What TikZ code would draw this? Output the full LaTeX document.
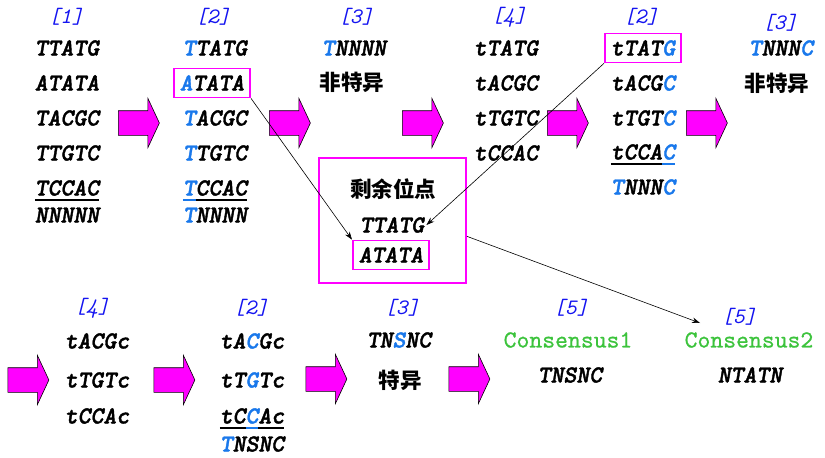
\documentclass[tikz,border=0pt]{standalone}
\usepackage{fontspec}
\usepackage{tikz}
\usetikzlibrary{arrows, arrows.meta, shapes, positioning}
\newfontfamily\cjk{Noto Sans CJK SC}
\newfontfamily\seqfont[FakeBold=1.6]{lmmonolt10-boldoblique.otf}
\newfontfamily\consfont[FakeBold=0.8]{lmmono10-regular.otf}
\definecolor{mymagenta}{RGB}{255,0,255}
\definecolor{seqblue}{RGB}{25,120,235}
\definecolor{lblblue}{RGB}{20,20,240}
\definecolor{consgreen}{RGB}{60,195,60}
\newcommand\bseq[1]{\textcolor{seqblue}{#1}}
\newcommand\useq[1]{\setbox0\hbox{#1}\rlap{\rule[-5.1pt]{\wd0}{1.2pt}}\box0}
\tikzset{
   myseq/.style={font=\fontsize{24.5}{26}\seqfont\selectfont, text height=15pt, text depth=0pt, inner sep=2pt},
   mylbl/.style={font=\fontsize{22}{24}\ttfamily\itshape\selectfont, text=lblblue, inner sep=1pt},
   mycons/.style={font=\fontsize{24.5}{26}\consfont\selectfont, text=consgreen, inner sep=1pt},
   mycjk/.style={font=\fontsize{21.5}{23}\cjk\bfseries\selectfont, inner sep=1pt},
   mybox/.style={draw=mymagenta, line width=1.7pt, inner xsep=6pt, inner ysep=7pt},
   fatarr/.style={single arrow, draw=black, fill=mymagenta, line width=0.6pt,
      text height=0pt, text depth=0pt, inner xsep=0pt, inner ysep=12pt,
      minimum height=41pt, single arrow head extend=12.5pt,
      single arrow tip angle=130, single arrow head indent=0pt}
}
\begin{document}
\begin{tikzpicture}[x=1pt, y=-1pt, >={Stealth[length=8pt,width=5.5pt]}, line width=0.6pt]
\useasboundingbox (0,0) rectangle (825,458);

% top row
\node[mylbl] (l1) at (66,17) {[1]};
\foreach \s [count=\i] in {TTATG, ATATA, TACGC, TTGTC, \useq{TCCAC}}
   \node[myseq] (s1-\i) at (67,13+35*\i) {\s};
\node[myseq] (r1) at (67,215) {NNNNN};
\node[fatarr] (a1) at (136,123) {};

\node[mylbl] (l2) at (213,17) {[2]};
\node[myseq] (s2-1) at (215,48) {\bseq{T}TATG};
\node[myseq, mybox] (s2-2) at (212,83) {\bseq{A}TATA};
\node[myseq] (s2-3) at (215,118) {\bseq{T}ACGC};
\node[myseq] (s2-4) at (215,153) {\bseq{T}TGTC};
\node[myseq] (s2-5) at (215,188) {\bseq{\useq{T}}\useq{CCAC}};
\node[myseq] (r2) at (215,215) {\bseq{T}NNNN};
\node[fatarr] (a2) at (287,123) {};

\node[mylbl] (l3) at (356,17) {[3]};
\node[myseq] (s3) at (354,48) {\bseq{T}NNNN};
\node[mycjk] (n3) at (352,82) {非特异};
\node[fatarr] (a3) at (420,123) {};

\node[mylbl] (l4) at (509,17) {[4]};
\foreach \s [count=\i] in {tTATG, tACGC, tTGTC, tCCAC}
   \node[myseq] (s4-\i) at (506,13+35*\i) {\s};
\node[fatarr] (a4) at (565,123) {};

\node[mylbl] (l5) at (641,17) {[2]};
\node[myseq, mybox] (s5-1) at (643,48) {tTAT\bseq{G}};
\node[myseq] (s5-2) at (643,83) {tACG\bseq{C}};
\node[myseq] (s5-3) at (643,118) {tTGT\bseq{C}};
\node[myseq] (s5-4) at (643,152) {\useq{tCCA}\bseq{\useq{C}}};
\node[myseq] (r5) at (643,187) {\bseq{T}NNN\bseq{C}};
\node[fatarr] (a5) at (704,123) {};

\node[mylbl] (l6) at (780,23) {[3]};
\node[myseq] (s6) at (781,48) {\bseq{T}NNN\bseq{C}};
\node[mycjk] (n6) at (777,83) {非特异};

% remaining sites
\node[draw=mymagenta, line width=1.7pt, minimum width=147pt, minimum height=125pt] (mid) at (392.5,220.5) {};
\node[mycjk] (m1) at (393,189) {剩余位点};
\node[myseq] (m2) at (392,225) {TTATG};
\node[myseq, mybox] (m3) at (391,255) {ATATA};

% bottom row
\node[fatarr] (a6) at (25.5,380) {};
\node[mylbl] (l7) at (92,308) {[4]};
\node[myseq] (s7-1) at (97,341) {tACGc};
\node[myseq] (s7-2) at (97,380) {tTGTc};
\node[myseq] (s7-3) at (97,416) {tCCAc};
\node[fatarr] (a7) at (171.5,380) {};

\node[mylbl] (l8) at (251,308) {[2]};
\node[myseq] (s8-1) at (252,341) {tA\bseq{C}Gc};
\node[myseq] (s8-2) at (252,380) {tT\bseq{G}Tc};
\node[myseq] (s8-3) at (252,416) {\useq{tC}\bseq{\useq{C}}\useq{Ac}};
\node[myseq] (r8) at (252,444) {\bseq{T}NSNC};
\node[fatarr] (a8) at (323.5,379) {};

\node[mylbl] (l9) at (402,308) {[3]};
\node[myseq] (s9) at (399,340) {TN\bseq{S}NC};
\node[mycjk] (n9) at (400,380) {特异};
\node[fatarr] (a9) at (466.5,379) {};

\node[mylbl] (l10) at (571,308) {[5]};
\node[mycons] (c1) at (568,340) {Consensus1};
\node[myseq] (t1) at (570,375) {TNSNC};

\node[mylbl] (l11) at (739,317) {[5]};
\node[mycons] (c2) at (749,340) {Consensus2};
\node[myseq] (t2) at (750,375) {NTATN};

\coordinate (c2tip) at (700,323);
\draw[->] (s2-2.south east) -- (m3.north west);
\draw[->] (s5-1.south west) -- (m2.east);
\draw[->] (mid.-12) -- (c2tip);
\end{tikzpicture}
\end{document}
